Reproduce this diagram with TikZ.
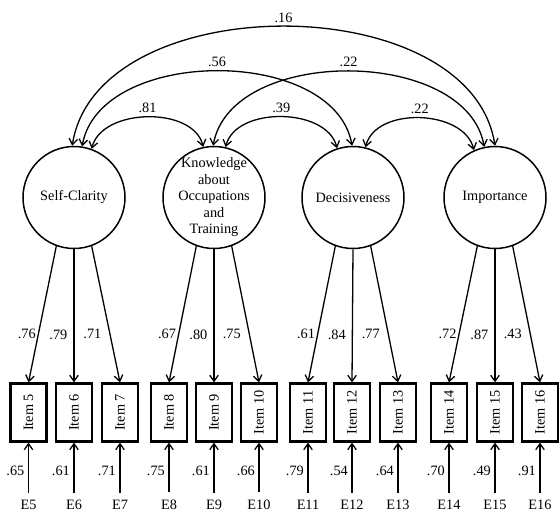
\documentclass[tikz,border=0pt]{standalone}
\usepackage{fontspec}
\setmainfont{Liberation Serif}
\usetikzlibrary{arrows.meta}
\begin{document}
\begin{tikzpicture}[x=1pt,y=-1pt,
  every node/.style={font=\fontsize{14.3}{16.5}\selectfont},
  latent/.style={circle,draw,line width=1.5pt,minimum size=102pt,inner sep=0pt,align=center},
  itembox/.style={draw,line width=2.2pt,minimum width=36pt,minimum height=58pt,inner sep=0pt},
  enode/.style={inner sep=0pt,outer ysep=7pt,anchor=base},
  arr/.style={-{Straight Barb[length=6pt,width=8.5pt]},line width=1.3pt},
  cov/.style={{Straight Barb[length=6pt,width=8.5pt]}-{Straight Barb[length=6pt,width=8.5pt]},line width=1.3pt},
  covlab/.style={above,inner sep=3.5pt},
  reslab/.style={pos=0.44,anchor=east,inner sep=3.5pt},
  loadlab/.style={pos=0.645,anchor=east,inner sep=0pt}
]
\useasboundingbox (0,0) rectangle (560,512);

% latent factors
\node[latent] (sc) at (74,197.5) {Self-Clarity};
\node[latent,inner sep=-6pt] (kn) at (214,197.5) {Knowledge\\about\\Occupations\\and\\Training};
\node[latent] (de) at (353,197.5) {Decisiveness};
\node[latent] (im) at (495,197.5) {Importance};

% items and errors
\foreach \n/\x/\r in {5/28.5/.65,6/74/.61,7/120/.71,8/169/.75,9/214/.61,10/259/.66,11/308/.79,12/352/.54,13/398/.64,14/449/.70,15/495/.49,16/540/.91}{
  \node[itembox] (i\n) at (\x,412.5) {\rotatebox{90}{Item \n}};
  \node[enode] (e\n) at (\x,509) {E\n};
  \draw[arr] (e\n.north) -- node[reslab]{\r} (i\n.south);
}

% loadings
\foreach \lv/\a/\n/\l/\g in {sc/250/5/.76/2,sc/270/6/.79/6,sc/290/7/.71/8,
  kn/250/8/.67/2,kn/270/9/.80/6,kn/290/10/.75/8,
  de/250/11/.61/2,de/270/12/.84/6,de/290/13/.77/8,
  im/250/14/.72/2,im/270/15/.87/6,im/290/16/.43/8}{
  \draw[arr] (\lv.\a) -- node[loadlab,xshift=-\g pt]{\l} (i\n.north);
}

% covariances
\draw[cov] (sc.70) .. controls +(10,-41) and +(-10,-41) .. node[covlab]{.81} (kn.102);
\draw[cov] (kn.77.5) .. controls +(10,-41) and +(-10,-41) .. node[covlab]{.39} (de.108);
\draw[cov] (de.76) .. controls +(10,-41) and +(-10,-41) .. node[covlab]{.22} (im.114);
\draw[cov] (sc.81) .. controls +(18,-100) and +(-18,-100) .. node[covlab]{.56} (de.91);
\draw[cov] (kn.91) .. controls +(18,-100) and +(-18,-100) .. node[covlab]{.22} (im.102);
\draw[cov] (sc.92) .. controls +(25,-159) and +(-25,-159) .. node[covlab]{.16} (im.90);
\end{tikzpicture}
\end{document}
